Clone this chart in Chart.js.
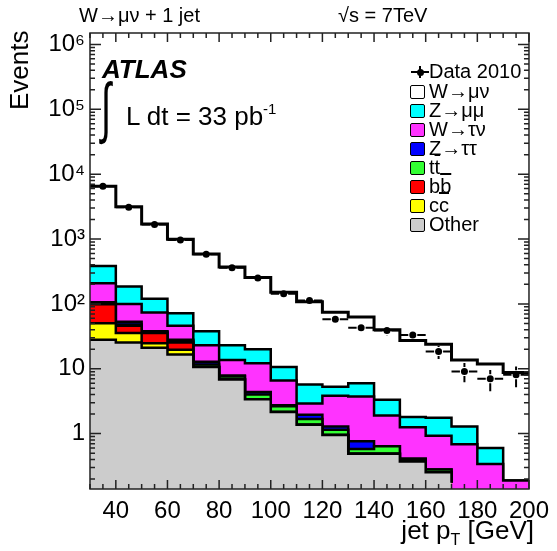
<!DOCTYPE html>
<html>
<head>
<meta charset="utf-8">
<script src="https://cdn.jsdelivr.net/npm/chart.js@4.4.1/dist/chart.umd.min.js"></script>
<style>
  body { margin: 0; background: #fff; }
  #wrap { position: relative; width: 557px; height: 551px; font-family: "Liberation Sans", Arial, sans-serif; color: #000; }
  #wrap canvas { position: absolute; left: 0; top: 0; }
  .txt { position: absolute; white-space: nowrap; line-height: 1; }
  .leg { position: absolute; left: 410px; height: 19px; white-space: nowrap; font-size: 20px; line-height: 19px; }
  .leg .box { position: absolute; left: 0; top: 3px; width: 13px; height: 12px; border: 1.5px solid #000; border-radius: 2px; }
  .leg .lab { position: absolute; left: 19px; top: 0; }
  .ov { text-decoration: overline; }
</style>
</head>
<body>
<div id="wrap">
  <canvas id="chart"></canvas>

  <div class="txt" style="left:79px; top:5px; font-size:20px;">W→μν + 1 jet</div>
  <div class="txt" style="left:338px; top:5px; font-size:20px;">√s = 7TeV</div>
  <div class="txt" style="left:102px; top:56px; font-size:26px; font-weight:bold; font-style:italic;">ATLAS</div>
  <div class="txt" style="left:101px; top:73px; font-size:46px; transform:scale(0.8, 1.45); transform-origin:0 0;">∫</div>
  <div class="txt" style="left:126px; top:101px; font-size:26px;">L dt = 33 pb<sup style="font-size:15px; vertical-align:11px;">-1</sup></div>

  <div class="txt" style="left:6px; top:110px; font-size:26px; transform:rotate(-90deg); transform-origin:0 0;">Events</div>
  <div class="txt" style="right:23px; top:517px; font-size:26px;">jet p<sub style="font-size:16px; vertical-align:-6px;">T</sub> [GeV]</div>

  <div id="legend"></div>
</div>

<script>
// bin edges in GeV (10 GeV bins)
const binEdges = [30, 40, 50, 60, 70, 80, 90, 100, 110, 120, 130, 140, 150, 160, 170, 180, 190, 200];

// MC components per bin (events)
const other   = [28, 25.4, 21, 16.6, 10.6, 6.8, 3.4, 2.16, 1.37, 0.95, 0.49, 0.49, 0.37, 0.254, 0.175, 0, 0];
const ccbar   = [22.5, 10.1, 3.8, 3.0, 0, 0, 0, 0, 0, 0, 0, 0, 0, 0, 0, 0, 0];
const bbbar   = [48.5, 10.5, 10.7, 5.8, 0, 0, 0, 0, 0, 0, 0, 0, 0, 0, 0, 0, 0];
const ttbar   = [2, 2, 1.5, 1.3, 1.0, 0.8, 0.6, 0.47, 0.31, 0.2, 0.09, 0.15, 0.04, 0.026, 0.021, 0, 0];
const zTauTau = [5, 5, 1, 1.3, 1.2, 0.3, 0.4, 0.1, 0.28, 0.14, 0.18, 0, 0, 0, 0, 0, 0];
const wTauNu  = [102, 47, 35.5, 18, 10.2, 5.8, 7.8, 3.87, 0.94, 2.56, 2.99, 1.27, 0.84, 0.65, 0.49, 0.34, 0.19];
const zMuMu   = [176, 85, 46.5, 26, 15, 9.3, 7.8, 4.0, 2.8, 1.45, 2.25, 1.42, 0.56, 0.83, 0.6, 0.26, 0];
const wMuNu   = [6146, 2955, 1580, 918, 552, 347, 234, 140, 102, 69, 57, 36.5, 25.5, 22.2, 12.4, 11.2, 8.6];

// Data 2010
const dataCounts = [6500, 3100, 1680, 970, 580, 360, 250, 143, 113, 58, 43, 39, 33, 18.5, 9.1, 7.0, 8.1];
const dataErrLo  = [80, 56, 41, 31, 24, 19, 16, 12, 10.6, 7.6, 6.6, 6.2, 5.5, 4.4, 2.9, 2.5, 2.9];
const dataErrHi  = [80, 56, 41, 31, 24, 19, 16, 12, 10.6, 7.6, 6.6, 6.2, 6.0, 4.1, 3.2, 2.6, 2.7];

// axis ticks
const xTickValues = [40, 60, 80, 100, 120, 140, 160, 180, 200];
const yTickValues = [1, 10, 100, 1000, 10000, 100000, 1000000];
const yTickLabels = ['1', '10', '10²', '10³', '10⁴', '10⁵', '10⁶'];

// stack from bottom to top
const components = [
    { label: 'Other',  values: other,   color: '#cccccc' },
    { label: 'cc',     values: ccbar,   color: '#ffff00' },
    { label: 'bb',     values: bbbar,   color: '#ff0000' },
    { label: 'tt',     values: ttbar,   color: '#33ff33' },
    { label: 'Z→ττ',   values: zTauTau, color: '#0000ff' },
    { label: 'W→τν',   values: wTauNu,  color: '#ff33ff' },
    { label: 'Z→μμ',   values: zMuMu,   color: '#00ffff' },
    { label: 'W→μν',   values: wMuNu,   color: '#ffffff' }
];

// one point per bin edge; the last edge repeats the last bin
function stepPoints(values) {
    return binEdges.map((x, i) => ({ x: x, y: values[Math.min(i, values.length - 1)] }));
}

const datasets = [];
let running = new Array(binEdges.length - 1).fill(0);
components.forEach((c, k) => {
    running = running.map((v, i) => v + c.values[i]);
    datasets.push({
        label: c.label,
        data: stepPoints(running.slice()),
        stepped: 'before',
        fill: 'start',
        backgroundColor: c.color,
        borderColor: '#000',
        borderWidth: k === components.length - 1 ? 3 : 2.5,
        pointRadius: 0,
        order: k + 1
    });
});

const binCenters = binEdges.slice(0, -1).map((e, i) => (e + binEdges[i + 1]) / 2);
datasets.push({
    label: 'Data 2010',
    data: binCenters.map((x, i) => ({ x: x, y: dataCounts[i] })),
    showLine: false,
    pointRadius: 3.5,
    pointBackgroundColor: '#000',
    pointBorderWidth: 0,
    order: 0
});

// frame, inward ticks and data error bars, ROOT style
const rootStyle = {
    id: 'rootStyle',
    afterDatasetsDraw(chart) {
        const ctx = chart.ctx;
        const xs = chart.scales.x, ys = chart.scales.y;
        const a = chart.chartArea;
        ctx.save();

        // error bars
        ctx.strokeStyle = '#000';
        ctx.lineWidth = 2;
        const gap = 4.5;
        binCenters.forEach((xc, i) => {
            const px = xs.getPixelForValue(xc);
            const py = ys.getPixelForValue(dataCounts[i]);
            const top = ys.getPixelForValue(dataCounts[i] + dataErrHi[i]);
            const bot = ys.getPixelForValue(dataCounts[i] - dataErrLo[i]);
            const left = xs.getPixelForValue(binEdges[i]);
            const right = xs.getPixelForValue(binEdges[i + 1]);
            ctx.beginPath();
            if (py - top > gap) { ctx.moveTo(px, top); ctx.lineTo(px, py - gap); }
            if (bot - py > gap) { ctx.moveTo(px, py + gap); ctx.lineTo(px, bot); }
            ctx.moveTo(left, py); ctx.lineTo(px - gap, py);
            ctx.moveTo(px + gap, py); ctx.lineTo(right, py);
            ctx.stroke();
        });

        // frame
        ctx.strokeStyle = '#222';
        ctx.lineWidth = 1.5;
        ctx.strokeRect(a.left, a.top, a.right - a.left, a.bottom - a.top);

        // x ticks every 5 GeV, longer every 20
        ctx.beginPath();
        for (let v = 30; v <= 200; v += 5) {
            const px = xs.getPixelForValue(v);
            const len = v % 20 === 0 ? 9 : 5;
            ctx.moveTo(px, a.bottom); ctx.lineTo(px, a.bottom - len);
            ctx.moveTo(px, a.top); ctx.lineTo(px, a.top + len);
        }
        // y ticks, decades and 2..9
        for (let d = -1; d <= 6; d++) {
            for (let m = 1; m <= 9; m++) {
                const v = m * Math.pow(10, d);
                if (v < ys.min || v > ys.max) continue;
                const py = ys.getPixelForValue(v);
                const len = m === 1 ? 11 : 5;
                ctx.moveTo(a.left, py); ctx.lineTo(a.left + len, py);
                ctx.moveTo(a.right, py); ctx.lineTo(a.right - len, py);
            }
        }
        ctx.stroke();
        ctx.restore();
    }
};

new Chart(document.getElementById('chart'), {
    type: 'line',
    data: { datasets: datasets },
    options: {
        responsive: true,
        maintainAspectRatio: false,
        animation: false,
        layout: { padding: { left: 0, top: 33, right: 23, bottom: 0 } },
        plugins: {
            legend: { display: false },
            tooltip: { enabled: false }
        },
        scales: {
            x: {
                type: 'linear',
                min: 30,
                max: 200,
                grid: { display: false, drawTicks: false },
                border: { display: false },
                afterBuildTicks: s => { s.ticks = xTickValues.map(v => ({ value: v })); },
                afterFit: s => { s.height = 62; },
                ticks: {
                    padding: 8,
                    maxRotation: 0,
                    color: '#000',
                    font: { family: '"Liberation Sans", Arial, sans-serif', size: 24 }
                }
            },
            y: {
                type: 'logarithmic',
                min: 0.14,
                max: 1.5e6,
                grid: { display: false, drawTicks: false },
                border: { display: false },
                afterBuildTicks: s => { s.ticks = yTickValues.map(v => ({ value: v, major: true })); },
                afterFit: s => { s.width = 90; },
                ticks: {
                    padding: 5,
                    color: '#000',
                    font: { family: '"Liberation Sans", Arial, sans-serif', size: 24 },
                    callback: (v, i) => yTickLabels[i]
                }
            }
        }
    },
    plugins: [rootStyle]
});

// legend
const legendRows = [
    { label: 'W→μν', color: '#ffffff' },
    { label: 'Z→μμ', color: '#00ffff' },
    { label: 'W→τν', color: '#ff33ff' },
    { label: 'Z→ττ', color: '#0000ff' },
    { label: 't<span class="ov">t</span>', color: '#33ff33' },
    { label: 'b<span class="ov">b</span>', color: '#ff0000' },
    { label: 'c<span class="ov">c</span>', color: '#ffff00' },
    { label: 'Other', color: '#cccccc' }
];
const legend = document.getElementById('legend');
const dataRow = document.createElement('div');
dataRow.className = 'leg';
dataRow.style.top = '62px';
dataRow.innerHTML =
    '<div style="position:absolute;left:1px;top:9px;width:18px;height:2px;background:#000"></div>' +
    '<div style="position:absolute;left:9px;top:4px;width:2px;height:12px;background:#000"></div>' +
    '<div style="position:absolute;left:6.5px;top:6.5px;width:7px;height:7px;border-radius:50%;background:#000"></div>' +
    '<span class="lab">Data 2010</span>';
legend.appendChild(dataRow);
legendRows.forEach((r, i) => {
    const row = document.createElement('div');
    row.className = 'leg';
    row.style.top = (82 + i * 19) + 'px';
    row.innerHTML = `<div class="box" style="background:${r.color}"></div><span class="lab">${r.label}</span>`;
    legend.appendChild(row);
});
</script>
</body>
</html>
